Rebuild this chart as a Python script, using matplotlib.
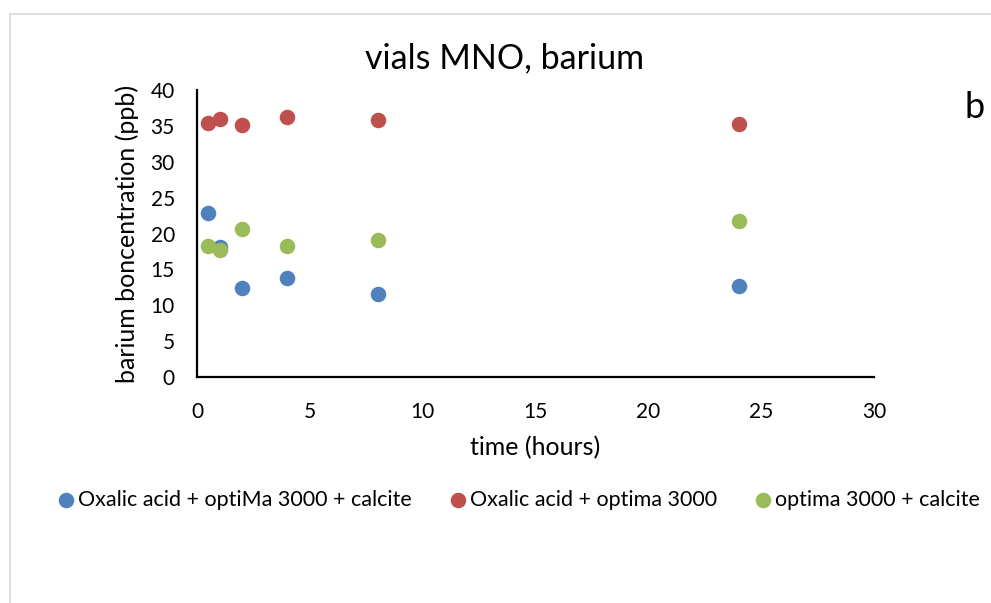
import matplotlib
matplotlib.use('Agg')
import matplotlib.pyplot as plt
from matplotlib.lines import Line2D

plt.rcParams['font.family'] = ['Lato', 'DejaVu Sans']

# tiempos de muestreo (horas)
tiempo = [0.5, 1, 2, 4, 8, 24]

# concentraciones de bario (ppb) por serie
oxalico_optima_calcita = [22.8, 18.1, 12.4, 13.8, 11.6, 12.7]
oxalico_optima = [35.4, 35.9, 35.1, 36.3, 35.8, 35.3]
optima_calcita = [18.3, 17.7, 20.6, 18.2, 19.1, 21.7]

etiquetas = ['Oxalic acid + optiMa 3000 + calcite',
             'Oxalic acid + optima 3000',
             'optima 3000 + calcite']
colores = ['#4F81BD', '#C0504D', '#9BBB59']

fig = plt.figure(figsize=(9.91, 6.03), dpi=100)
ax = fig.add_axes([197 / 991, 1 - 377 / 603, (874 - 197) / 991, (377 - 90) / 603])

series = [oxalico_optima_calcita, oxalico_optima, optima_calcita]
for ys, lab, col in zip(series, etiquetas, colores):
    ax.scatter(tiempo, ys, s=125, color=col, label=lab, zorder=3, linewidths=0)

ax.set_xlim(0, 30)
ax.set_ylim(0, 40)
ax.set_xticks(range(0, 31, 5))
ax.set_yticks(range(0, 41, 5))
ax.tick_params(length=0, labelsize=15)
ax.tick_params(axis='x', pad=18)
ax.tick_params(axis='y', pad=16)
for lado in ['top', 'right']:
    ax.spines[lado].set_visible(False)
for lado in ['left', 'bottom']:
    ax.spines[lado].set_linewidth(1.6)
ax.set_clip_on(False)

ax.set_xlabel('time (hours)', fontsize=18, labelpad=10)
ax.set_ylabel('barium boncentration (ppb)', fontsize=18, labelpad=8)

fig.text(505 / 991, 1 - 58 / 603, 'vials MNO, barium', fontsize=24.5,
         ha='center', va='center')
fig.text(975 / 991, 1 - 108 / 603, 'b', fontsize=26, ha='center', va='center')

leg = fig.legend(loc='center', bbox_to_anchor=(518 / 991, 1 - 500 / 603),
                 ncol=3, frameon=False, fontsize=15.5, handletextpad=0.1,
                 columnspacing=1.7, scatterpoints=1, handlelength=0.9,
                 markerscale=1.0)

# borde gris del área del gráfico
fig.add_artist(Line2D([10 / 991, 1], [1 - 14 / 603, 1 - 14 / 603],
                      color='#D9D9D9', lw=1.2, transform=fig.transFigure))
fig.add_artist(Line2D([10 / 991, 10 / 991], [0, 1 - 14 / 603],
                      color='#D9D9D9', lw=1.2, transform=fig.transFigure))

fig.savefig('out.png', dpi=100)
